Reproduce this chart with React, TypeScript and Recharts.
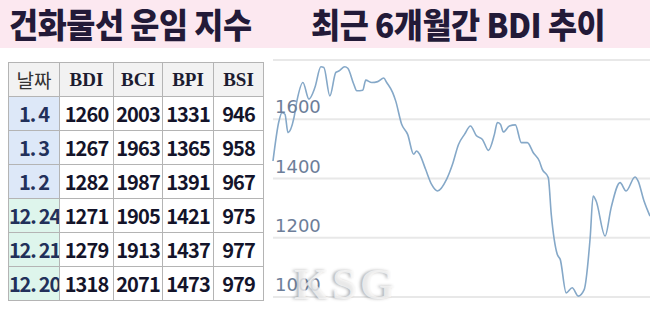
import React from 'react';
import { LineChart, Line, XAxis, YAxis, CartesianGrid } from 'recharts';

// BDI trend, last ~6 months (trading day index, index value)
const days = [0, 2, 3, 4, 5, 7, 8, 10, 12, 14, 16, 17, 19, 21, 22, 24, 25, 27, 28, 30, 31, 33, 35, 37, 38, 40, 41, 43, 45, 47, 48, 49, 51, 53, 55, 58, 60, 62, 64, 66, 68, 70, 72, 74, 75, 76, 77, 79, 81, 83, 85, 87, 89, 90, 92, 93, 95, 96, 98, 100, 102, 104, 106, 107, 108, 111, 113, 116, 118, 121, 122, 124, 126];
const bdiTrend = [1459, 1594, 1622, 1617, 1555, 1605, 1662, 1724, 1668, 1707, 1777, 1775, 1679, 1758, 1763, 1777, 1772, 1718, 1696, 1698, 1732, 1724, 1727, 1739, 1724, 1690, 1662, 1583, 1549, 1482, 1493, 1482, 1431, 1380, 1358, 1397, 1448, 1515, 1549, 1577, 1544, 1532, 1495, 1549, 1589, 1583, 1557, 1577, 1581, 1521, 1521, 1487, 1459, 1431, 1403, 1279, 1144, 1127, 1014, 1031, 1003, 1025, 1200, 1341, 1324, 1206, 1301, 1386, 1358, 1405, 1392, 1324, 1273];
const yTicks = [1000, 1200, 1400, 1600, 1800];

// table
const headers = ['BDI', 'BCI', 'BPI', 'BSI'];
const dates = ['1. 4', '1. 3', '1. 2', '12. 24', '12. 21', '12. 20'];
const bdi = [1260, 1267, 1282, 1271, 1279, 1318];
const bci = [2003, 1963, 1987, 1905, 1913, 2071];
const bpi = [1331, 1365, 1391, 1421, 1437, 1473];
const bsi = [946, 958, 967, 975, 977, 979];

const chartData = days.map((d, i) => ({ day: d, value: bdiTrend[i] }));

const colWidths = [51, 54, 49, 51, 50];
const cell: React.CSSProperties = {
  border: '1px solid #b4b4b4',
  height: 33,
  padding: 0,
  textAlign: 'center',
  whiteSpace: 'nowrap',
  overflow: 'hidden',
  fontFamily: '"Noto Sans CJK KR", "Noto Sans", sans-serif',
  fontWeight: 700,
  fontSize: 20,
  letterSpacing: -0.9,
  color: '#14142a',
};

const renderYTick = (props: any) => {
  const { y, payload } = props;
  if (payload.value === 1800) return <g />;
  return (
    <text x={3} y={y - 6} fill="#6d7e99" fontSize={18} fontFamily="DejaVu Sans, sans-serif" textAnchor="start">
      {payload.value}
    </text>
  );
};

export default function App() {
  return (
    <div style={{ position: 'fixed', left: 0, top: 0, width: 650, height: 310, background: '#fff', overflow: 'hidden' }}>
      <div
        style={{
          position: 'absolute', left: 0, top: 0, width: 650, height: 48, background: '#fce8f0',
          fontFamily: '"Noto Sans CJK KR", sans-serif', fontWeight: 900, fontSize: 34, color: '#231a38',
          lineHeight: '50px', whiteSpace: 'pre',
        }}
      >
        <span style={{ position: 'absolute', left: 9, top: -1, transform: 'scaleX(0.93)', transformOrigin: 'left center', letterSpacing: -0.5 }}>건화물선 운임 지수</span>
        <span style={{ position: 'absolute', left: 311, top: -1, transform: 'scaleX(0.93)', transformOrigin: 'left center', letterSpacing: -0.5 }}>최근 6개월간 BDI 추이</span>
      </div>

      <table style={{ position: 'absolute', left: 8, top: 62, borderCollapse: 'collapse', tableLayout: 'fixed', width: 255 }}>
        <colgroup>
          {colWidths.map((w, i) => <col key={i} style={{ width: w }} />)}
        </colgroup>
        <thead>
          <tr style={{ background: '#f2f2f2' }}>
            <th style={{ ...cell, fontWeight: 400, fontSize: 19, letterSpacing: 0, color: '#333' }}>날짜</th>
            {headers.map(h => (
              <th key={h} style={{ ...cell, fontFamily: '"Liberation Serif", serif', fontSize: 19, letterSpacing: 0, color: '#1c1c30' }}>{h}</th>
            ))}
          </tr>
        </thead>
        <tbody>
          {dates.map((d, i) => (
            <tr key={d}>
              <td style={{ ...cell, background: i < 3 ? '#dde8f8' : '#def5ec', color: '#22305a', letterSpacing: -1.2 }}>{d}</td>
              <td style={cell}>{bdi[i]}</td>
              <td style={cell}>{bci[i]}</td>
              <td style={cell}>{bpi[i]}</td>
              <td style={cell}>{bsi[i]}</td>
            </tr>
          ))}
        </tbody>
      </table>

      <div style={{ position: 'absolute', left: 272, top: 50 }}>
        <LineChart width={378} height={260} data={chartData} margin={{ top: 10, right: 0, bottom: 13, left: 0 }}>
          <CartesianGrid vertical={false} stroke="#e8e8e8" strokeWidth={2} />
          <XAxis dataKey="day" type="number" domain={[0, 126]} hide />
          <YAxis
            domain={[1000, 1800]}
            ticks={yTicks}
            width={1}
            interval={0}
            axisLine={false}
            tickLine={false}
            tick={renderYTick}
            allowDataOverflow
          />
          <Line type="monotone" dataKey="value" stroke="#85a8c8" strokeWidth={1.6} dot={false} isAnimationActive={false} />
        </LineChart>
      </div>

      <div
        style={{
          position: 'absolute', left: 294, top: 258, fontFamily: '"Liberation Serif", serif', fontWeight: 700,
          fontSize: 45, color: 'rgba(250,250,250,0.75)', letterSpacing: 3,
          textShadow: '-2px 0 3px rgba(90,90,90,0.45)',
        }}
      >
        KSG
      </div>
    </div>
  );
}
